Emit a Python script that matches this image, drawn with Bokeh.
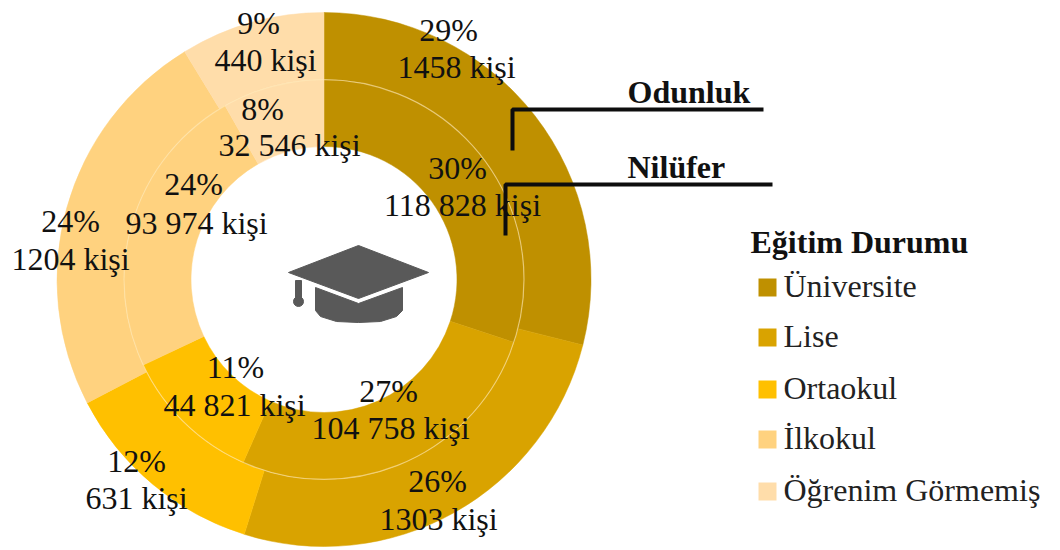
import math
from bokeh.embed import file_html
from bokeh.resources import INLINE
from bokeh.plotting import figure
from bokeh.core.properties import value

W, H = 1060, 550
SERIF = value("Liberation Serif")
FONT = "32px"

# Education level shares for the two districts
categories = ["Üniversite", "Lise", "Ortaokul", "İlkokul", "Öğrenim Görmemiş"]
colors = ["#BF9000", "#D9A300", "#FFC000", "#FFD27F", "#FFDDAA"]
odunluk_people = [1458, 1303, 631, 1204, 440]
odunluk_share = [29, 26, 12, 24, 9]
nilufer_people = [118828, 104758, 44821, 93974, 32546]
nilufer_share = [30, 27, 11, 24, 8]
odunluk_counts = ["1458 kişi", "1303 kişi", "631 kişi", "1204 kişi", "440 kişi"]
nilufer_counts = ["118 828 kişi", "104 758 kişi", "44 821 kişi", "93 974 kişi", "32 546 kişi"]

# Screen layout, with y measured downward from the top of the page
CENTER = (323.5, 279)
R_OUT, R_MID, R_HOLE = 267, 200, 133
odunluk_pos = [((448, 29), (456, 66)), ((437, 480), (438, 518)), ((136, 460), (136, 497)),
               ((70, 220), (70, 258)), ((258, 22), (265, 59))]
nilufer_pos = [((457, 167), (462, 204)), ((388, 390), (390, 427)), ((235, 366), (234, 404)),
               ((193, 183), (196, 222)), ((262, 108), (289, 144))]
legend_y = [287, 337, 389, 439, 491]

p = figure(width=W, height=H, x_range=(0, W), y_range=(0, H), output_backend="svg",
           toolbar_location=None, min_border=0, outline_line_color=None)
p.axis.visible = False
p.grid.visible = False
p.background_fill_color = "white"
p.border_fill_color = "white"


def fy(y):
    return H - y


def ring(people, inner, outer):
    total = sum(people)
    angle = math.pi / 2
    for v, c in zip(people, colors):
        end = angle - 2 * math.pi * v / total
        p.annular_wedge(CENTER[0], fy(CENTER[1]), inner, outer, end, angle,
                        fill_color=c, line_color=c, line_width=0.5)
        angle = end


ring(odunluk_people, R_MID, R_OUT)
ring(nilufer_people, R_HOLE, R_MID)
# Pale seam between the two rings
p.circle(CENTER[0], fy(CENTER[1]), radius=R_MID, fill_color=None,
         line_color="#FFE9B8", line_alpha=0.6, line_width=1.2)

# Mortarboard icon in the hole
GREY = "#595959"
p.patch([288, 358, 428, 358], [fy(272), fy(245), fy(272), fy(298)], fill_color=GREY, line_color=GREY)
p.patch([315, 358, 402, 402, 396, 380, 358, 336, 320, 315],
        [fy(287), fy(303), fy(287), fy(310), fy(316), fy(321), fy(322), fy(321), fy(316), fy(310)],
        fill_color=GREY, line_color=GREY)
p.quad(left=295, right=301, top=fy(280), bottom=fy(300), fill_color=GREY, line_color=GREY)
p.circle(298, fy(301), radius=5, fill_color=GREY, line_color=GREY)


def labels(shares, counts, positions):
    for s, t, (a, b) in zip(shares, counts, positions):
        p.text([a[0]], [fy(a[1])], text=[f"{s}%"], text_font=SERIF, text_font_size=FONT,
               text_align="center", text_baseline="middle", text_color="#111111")
        p.text([b[0]], [fy(b[1])], text=[t], text_font=SERIF, text_font_size=FONT,
               text_align="center", text_baseline="middle", text_color="#111111")


labels(odunluk_share, odunluk_counts, odunluk_pos)
labels(nilufer_share, nilufer_counts, nilufer_pos)

# Callouts naming each ring
p.line([512, 512, 763], [fy(150), fy(109), fy(109)], line_color="#0d0d0d", line_width=4)
p.line([505, 505, 772], [fy(235), fy(184), fy(184)], line_color="#0d0d0d", line_width=4)
p.text([627], [fy(91)], text=["Odunluk"], text_font=SERIF, text_font_size=FONT,
       text_font_style="bold", text_baseline="middle", text_color="#111111")
p.text([627], [fy(166)], text=["Nilüfer"], text_font=SERIF, text_font_size=FONT,
       text_font_style="bold", text_baseline="middle", text_color="#111111")

# Legend
p.text([750], [fy(241)], text=["Eğitim Durumu"], text_font=SERIF, text_font_size=FONT,
       text_font_style="bold", text_baseline="middle", text_color="#111111")
for name, c, y in zip(categories, colors, legend_y):
    p.rect(767, fy(y), 18, 18, fill_color=c, line_color=None)
    p.text([783], [fy(y - 2)], text=[name], text_font=SERIF, text_font_size=FONT,
           text_baseline="middle", text_color="#222222")

open("out.html", "w").write(file_html(p, INLINE))
